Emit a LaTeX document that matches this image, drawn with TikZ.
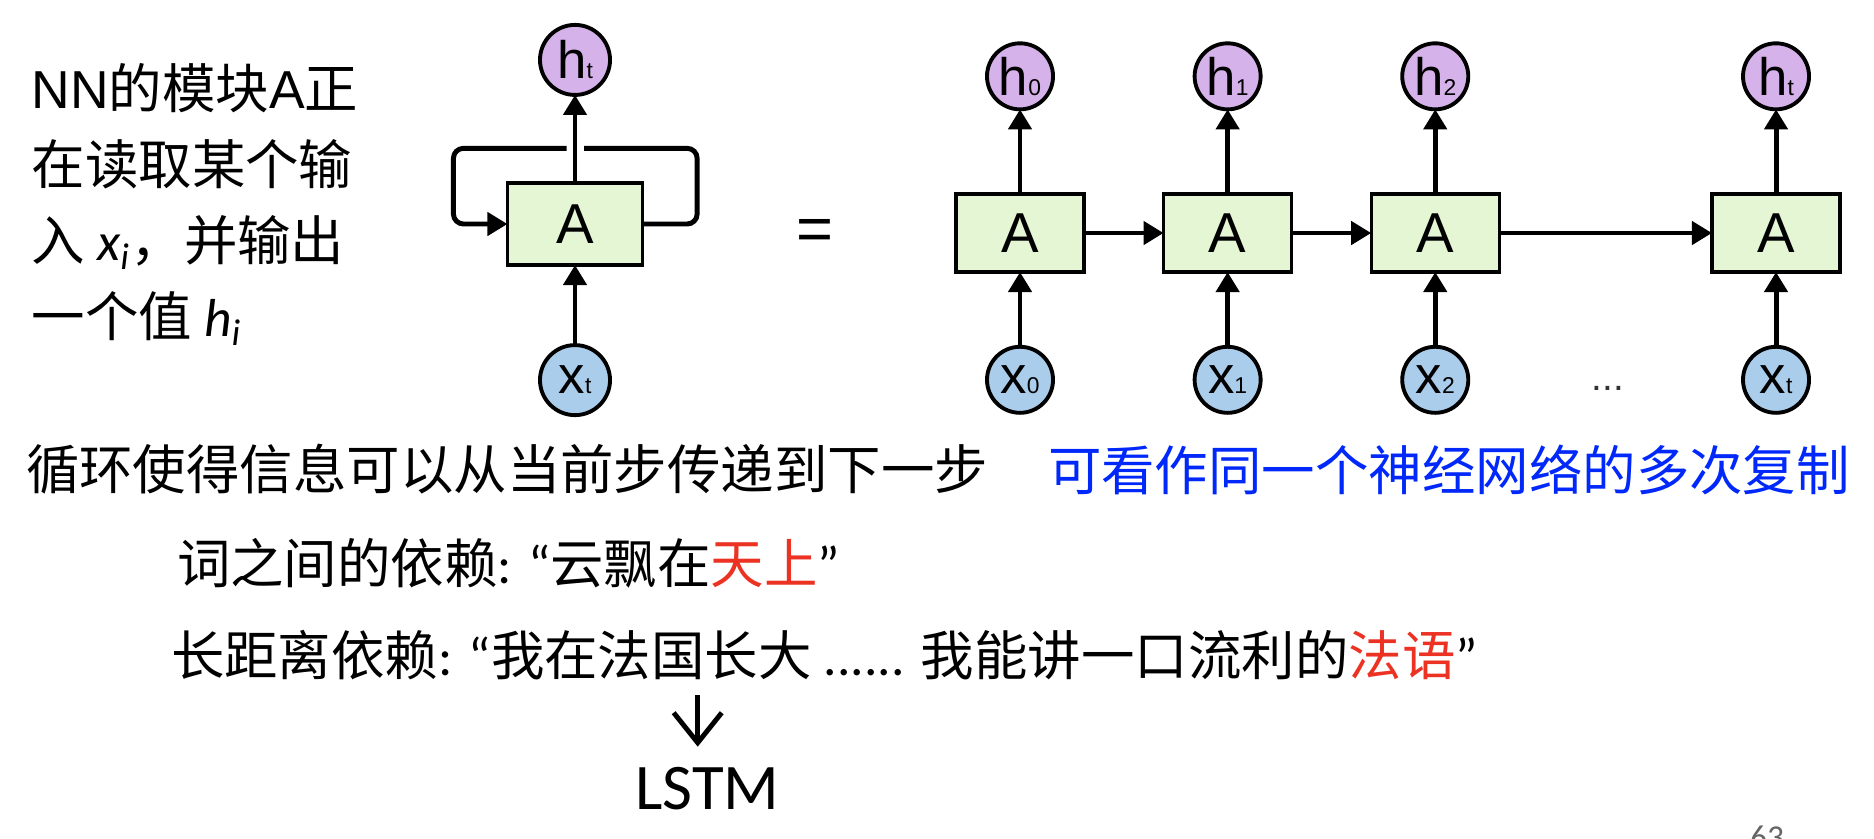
\documentclass[tikz,border=0pt]{standalone}
\usepackage{fontspec}
\setmainfont{Noto Sans CJK SC}
\newfontfamily\labfont{Liberation Sans}
\newfontfamily\calibri{Carlito}
\usetikzlibrary{arrows.meta}
\usetikzlibrary{positioning}
\usepackage{xcolor}
\definecolor{hpurple}{RGB}{214,178,234}
\definecolor{xblue}{RGB}{170,205,235}
\definecolor{agreen}{RGB}{228,246,212}
\definecolor{txtblue}{RGB}{0,40,250}
\definecolor{txtred}{RGB}{235,50,35}
\newcommand{\lat}[1]{{\calibri #1}}
\newcommand{\lab}[1]{{\labfont #1}}
\newcommand{\cellname}[2]{{\labfont\fontsize{15pt}{15pt}\selectfont #1{\fontsize{6.5pt}{6.5pt}\selectfont #2}}}

\begin{document}
\begin{tikzpicture}[%
        x=0.01cm, y=-0.01cm,
        every node/.style={inner sep=0pt, outer sep=0pt},
        cell/.style={draw, line width=0.9pt, fill=agreen, minimum width=1.28cm, minimum height=0.78cm,
          font=\labfont\fontsize{16pt}{16pt}\selectfont},
        hstate/.style={circle, draw, line width=1.1pt, fill=hpurple, minimum size=0.66cm},
        xinput/.style={circle, draw, line width=1.1pt, fill=xblue, minimum size=0.66cm},
        flow/.style={line width=1.4pt, ->},
        pointer/.style={line width=1.4pt, -{Straight Barb[length=0.3cm,width=0.48cm]}, shorten >=0.21cm},
        txt/.style={anchor=west, font=\fontsize{15.2pt}{21.6pt}\selectfont},
        >={Triangle[length=5.7pt,width=6.5pt]}
      ]
      \useasboundingbox (0,0) rectangle (1874,838);

      % folded network
      \node [cell, minimum width=1.35cm, minimum height=0.82cm] (ta) at (575,224) {A};
      \node [hstate, minimum size=0.70cm, above=0.88cm of ta] (ht) {\cellname{h}{t}};
      \node [xinput, minimum size=0.70cm, below=0.80cm of ta] (xt) {\cellname{x}{t}};
      \coordinate (gl) at (566.7,148.3);
      \coordinate (gr) at (584,148.3);
      \path [draw] (xt) edge[flow] (ta)
      (ta) edge[flow] (ht);
      \draw [flow, rounded corners=0.1cm] (gl) -| ([xshift=-0.54cm]ta.west) -- (ta.west);
      \draw [line width=1.4pt, rounded corners=0.1cm] (ta.east) -- ++(54.6,0) |- (gr);

      \node [] (eq) at (815,235) {\labfont\fontsize{18pt}{18pt}\selectfont =};

      % unrolled network
      \node [cell] (a0) at (1020,233) {A};
      \node [cell, right=0.795cm of a0] (a1) {A};
      \node [cell, right=0.795cm of a1] (a2) {A};
      \node [cell] (a3) at (1776,233) {A};
      \node [hstate, above=0.846cm of a0] (h0) {\cellname{h}{0}};
      \node [hstate, above=0.846cm of a1] (h1) {\cellname{h}{1}};
      \node [hstate, above=0.846cm of a2] (h2) {\cellname{h}{2}};
      \node [hstate, above=0.846cm of a3] (h3) {\cellname{h}{t}};
      \node [xinput, below=0.747cm of a0] (x0) {\cellname{x}{0}};
      \node [xinput, below=0.747cm of a1] (x1) {\cellname{x}{1}};
      \node [xinput, below=0.747cm of a2] (x2) {\cellname{x}{2}};
      \node [xinput, below=0.747cm of a3] (x3) {\cellname{x}{t}};
      \node [text=black!80] (dots) at (1608,388) {\labfont\fontsize{11pt}{11pt}\selectfont ...};
      \path [draw] (x0) edge[flow] (a0)
      (x1) edge[flow] (a1)
      (x2) edge[flow] (a2)
      (x3) edge[flow] (a3)
      (a0) edge[flow] (h0)
      (a1) edge[flow] (h1)
      (a2) edge[flow] (h2)
      (a3) edge[flow] (h3)
      (a0) edge[flow] (a1)
      (a1) edge[flow] (a2)
      (a2) edge[flow] (a3);

      % texts
      \node [txt, align=left] (intro) at (31.7,204.4) {\lab{NN}的模块\lab{A}正\\在读取某个输\\入 {\calibri\itshape x\textsubscript{i}}，并输出\\一个值 {\calibri\itshape h\textsubscript{i}}};
      \node [txt] (rec) at (26,469) {循环使得信息可以从当前步传递到下一步};
      \node [txt, text=txtblue] (copy) at (1048,470) {可看作同一个神经网络的多次复制};
      \node [txt] (short) at (177,563) {词之间的依赖\lat{: “}云飘在\textcolor{txtred}{天上}\lat{”}};
      \node [txt] (long) at (171,655) {长距离依赖\lat{: “}我在法国长大\lat{ ...... }我能讲一口流利的\textcolor{txtred}{法语}\lat{”}};
      \node [] (lstm) at (707.5,789) {\calibri\fontsize{18.5pt}{18.5pt}\selectfont LSTM};
      \coordinate (dn) at (697.7,695);
      \draw [pointer] (dn) -- (dn |- lstm.north);
      \node [anchor=north, text=black!60] (page) at (1767,826) {\calibri\fontsize{9.5pt}{9.5pt}\selectfont 63};
    \end{tikzpicture}
\end{document}
